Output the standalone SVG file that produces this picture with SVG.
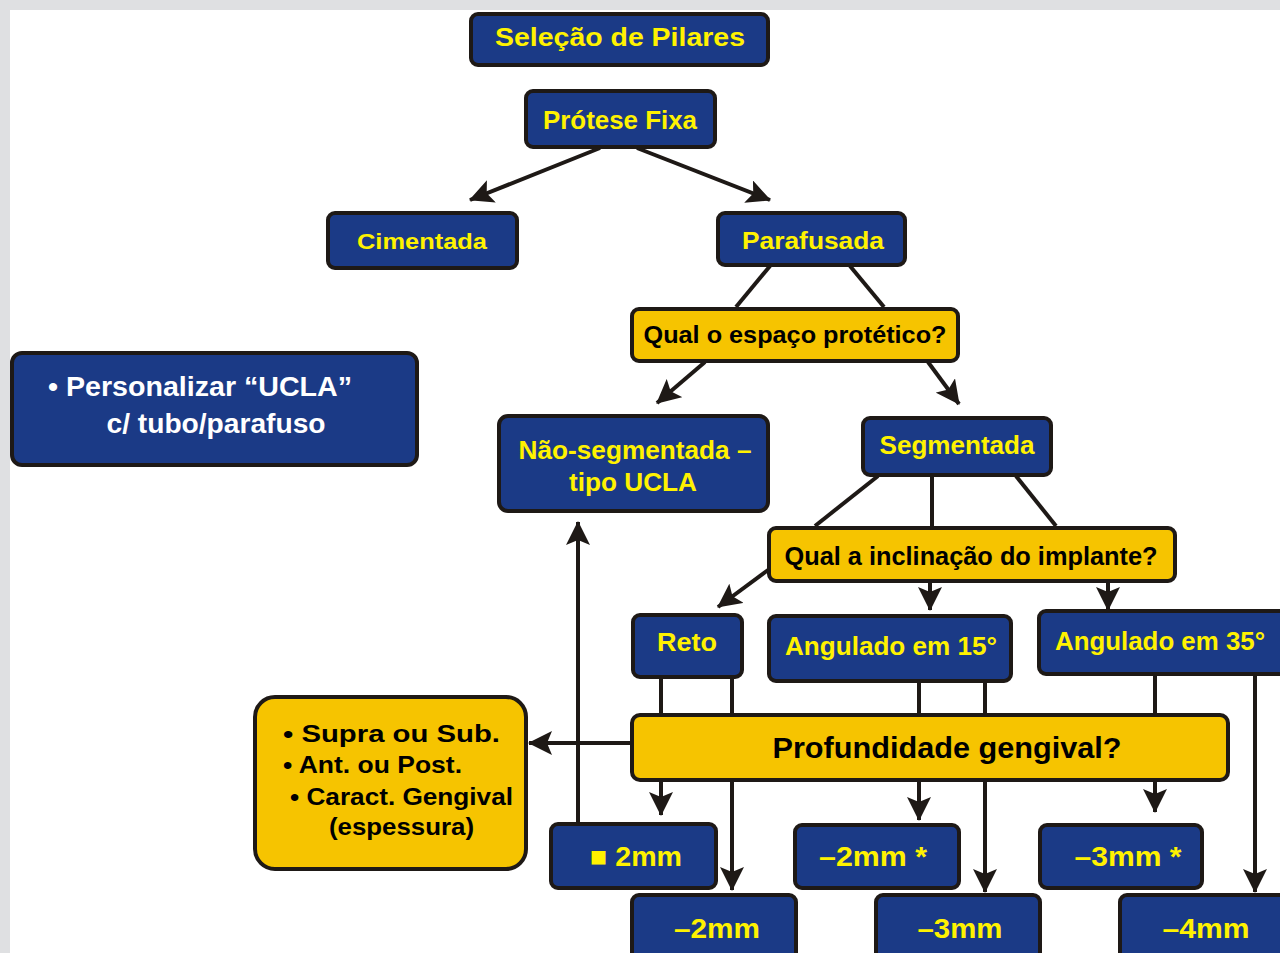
<svg xmlns="http://www.w3.org/2000/svg" width="1280" height="953" viewBox="0 0 1280 953">
<defs>
<style>
.b{fill:#1b3a86;stroke:#1e1916;stroke-width:4}
.y{fill:#f6c400;stroke:#1e1916;stroke-width:4}
.tb{font-family:"Liberation Sans",Arial,sans-serif;font-weight:bold;fill:#fff200;text-anchor:middle}
.tk{font-family:"Liberation Sans",Arial,sans-serif;font-weight:bold;fill:#000;text-anchor:middle}
.tw{font-family:"Liberation Sans",Arial,sans-serif;font-weight:bold;fill:#fff;text-anchor:middle}
.c{stroke:#1e1916;stroke-width:4;fill:none}
.a{marker-end:url(#ah)}
</style>
<marker id="ah" viewBox="0 0 24 24" refX="23" refY="12" markerWidth="24" markerHeight="24" markerUnits="userSpaceOnUse" orient="auto">
<path d="M0,0 L24,12 L0,24 L5,12 z" fill="#1e1916"/>
</marker>
</defs>
<rect width="1280" height="953" fill="#dfe0e2"/>
<rect x="10" y="10" width="1270" height="943" fill="#fff"/>

<g id="connectors">
<path class="c a" d="M600,148 L470,200"/>
<path class="c a" d="M637,148 L770,200"/>
<path class="c" d="M770,266 L736,307"/>
<path class="c" d="M850,266 L884,307"/>
<path class="c a" d="M705,362 L657,403"/>
<path class="c a" d="M928,362 L959,404"/>
<path class="c" d="M878,476 L815,526"/>
<path class="c" d="M932,476 L932,526"/>
<path class="c" d="M1016,476 L1056,526"/>
<path class="c a" d="M768,570 L718,607"/>
<path class="c a" d="M930,582 L930,610"/>
<path class="c a" d="M1108,582 L1108,610"/>
<path class="c" d="M661,678 L661,713"/>
<path class="c a" d="M661,781 L661,815"/>
<path class="c" d="M732,678 L732,713"/>
<path class="c a" d="M732,781 L732,890"/>
<path class="c" d="M919,682 L919,713"/>
<path class="c a" d="M919,781 L919,820"/>
<path class="c" d="M985,682 L985,713"/>
<path class="c a" d="M985,781 L985,892"/>
<path class="c" d="M1155,675 L1155,713"/>
<path class="c a" d="M1155,781 L1155,812"/>
<path class="c a" d="M1255,675 L1255,892"/>
<path class="c a" d="M578,822 L578,522"/>
<path class="c a" d="M630,743 L529,743"/>
</g>

<g id="selecao">
<rect class="b" x="471" y="14" width="297" height="51" rx="7"/>
<text class="tb" x="620" y="46" font-size="26" textLength="250" lengthAdjust="spacingAndGlyphs">Seleção de Pilares</text>
</g>
<g id="protese">
<rect class="b" x="526" y="91" width="189" height="56" rx="7"/>
<text class="tb" x="620" y="129" font-size="26" textLength="154" lengthAdjust="spacingAndGlyphs">Prótese Fixa</text>
</g>
<g id="cimentada">
<rect class="b" x="328" y="213" width="189" height="55" rx="7"/>
<text class="tb" x="422" y="249" font-size="22" textLength="130" lengthAdjust="spacingAndGlyphs">Cimentada</text>
</g>
<g id="parafusada">
<rect class="b" x="718" y="213" width="187" height="52" rx="7"/>
<text class="tb" x="813" y="249" font-size="24" textLength="142" lengthAdjust="spacingAndGlyphs">Parafusada</text>
</g>
<g id="espaco">
<rect class="y" x="632" y="309" width="326" height="52" rx="7"/>
<text class="tk" x="795" y="343" font-size="24" textLength="303" lengthAdjust="spacingAndGlyphs">Qual o espaço protético?</text>
</g>
<g id="personalizar">
<rect class="b" x="12" y="353" width="405" height="112" rx="10"/>
<text class="tw" font-size="28"><tspan x="200" y="396" textLength="304" lengthAdjust="spacingAndGlyphs">•  Personalizar “UCLA”</tspan><tspan x="216" y="433" textLength="219" lengthAdjust="spacingAndGlyphs">c/ tubo/parafuso</tspan></text>
</g>
<g id="nao-segmentada">
<rect class="b" x="499" y="416" width="269" height="95" rx="9"/>
<text class="tb" font-size="26"><tspan x="635" y="459" textLength="233" lengthAdjust="spacingAndGlyphs">Não-segmentada –</tspan><tspan x="633" y="491" textLength="128" lengthAdjust="spacingAndGlyphs">tipo UCLA</tspan></text>
</g>
<g id="segmentada">
<rect class="b" x="863" y="418" width="188" height="57" rx="7"/>
<text class="tb" x="957" y="454" font-size="26" textLength="155" lengthAdjust="spacingAndGlyphs">Segmentada</text>
</g>
<g id="inclinacao">
<rect class="y" x="769" y="528" width="406" height="53" rx="7"/>
<text class="tk" x="971" y="565" font-size="26" textLength="373" lengthAdjust="spacingAndGlyphs">Qual a inclinação do implante?</text>
</g>
<g id="reto">
<rect class="b" x="633" y="615" width="109" height="62" rx="7"/>
<text class="tb" x="687" y="651" font-size="26" textLength="60" lengthAdjust="spacingAndGlyphs">Reto</text>
</g>
<g id="angulado15">
<rect class="b" x="769" y="616" width="242" height="65" rx="7"/>
<text class="tb" x="891" y="655" font-size="26" textLength="212" lengthAdjust="spacingAndGlyphs">Angulado em 15°</text>
</g>
<g id="angulado35">
<rect class="b" x="1039" y="611" width="250" height="63" rx="7"/>
<text class="tb" x="1160" y="650" font-size="26" textLength="210" lengthAdjust="spacingAndGlyphs">Angulado em 35°</text>
</g>
<g id="profundidade">
<rect class="y" x="632" y="715" width="596" height="65" rx="8"/>
<text class="tk" x="947" y="758" font-size="30" textLength="349" lengthAdjust="spacingAndGlyphs">Profundidade gengival?</text>
</g>
<g id="fatores">
<rect class="y" x="255" y="697" width="271" height="172" rx="20"/>
<text class="tk" font-size="24" text-anchor="start" style="text-anchor:start"><tspan x="283" y="742" textLength="217" lengthAdjust="spacingAndGlyphs">• Supra  ou   Sub.</tspan><tspan x="283" y="773" textLength="179" lengthAdjust="spacingAndGlyphs">• Ant. ou Post.</tspan><tspan x="290" y="805" textLength="223" lengthAdjust="spacingAndGlyphs">•  Caract. Gengival</tspan><tspan x="329" y="835" textLength="145" lengthAdjust="spacingAndGlyphs">(espessura)</tspan></text>
</g>
<g id="menor2mm">
<rect class="b" x="551" y="824" width="165" height="64" rx="7"/>
<text class="tb" x="636" y="866" font-size="28" textLength="92" lengthAdjust="spacingAndGlyphs">■ 2mm</text>
</g>
<g id="mm2b">
<rect class="b" x="795" y="825" width="164" height="63" rx="7"/>
<text class="tb" x="873" y="866" font-size="28" textLength="108" lengthAdjust="spacingAndGlyphs">–2mm *</text>
</g>
<g id="mm3b">
<rect class="b" x="1040" y="825" width="162" height="63" rx="7"/>
<text class="tb" x="1128" y="866" font-size="28" textLength="107" lengthAdjust="spacingAndGlyphs">–3mm *</text>
</g>
<g id="mm2">
<rect class="b" x="632" y="895" width="164" height="70" rx="7"/>
<text class="tb" x="717" y="938" font-size="28" textLength="86" lengthAdjust="spacingAndGlyphs">–2mm</text>
</g>
<g id="mm3">
<rect class="b" x="876" y="895" width="164" height="70" rx="7"/>
<text class="tb" x="960" y="938" font-size="28" textLength="85" lengthAdjust="spacingAndGlyphs">–3mm</text>
</g>
<g id="mm4">
<rect class="b" x="1120" y="895" width="170" height="70" rx="7"/>
<text class="tb" x="1206" y="938" font-size="28" textLength="87" lengthAdjust="spacingAndGlyphs">–4mm</text>
</g>
</svg>
